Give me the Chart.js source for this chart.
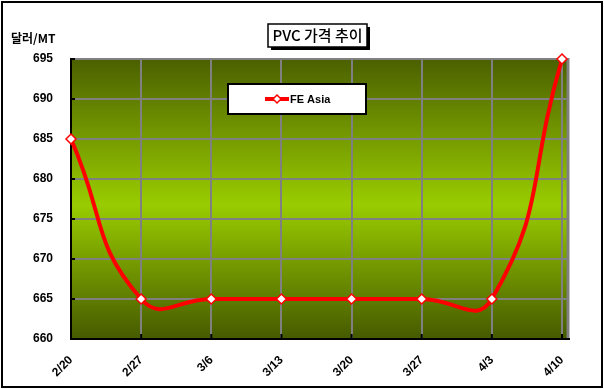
<!DOCTYPE html>
<html>
<head>
<meta charset="utf-8">
<script src="https://cdn.jsdelivr.net/npm/chart.js@4/dist/chart.umd.min.js"></script>
<style>
html,body{margin:0;padding:0;background:#fff;}
canvas{display:block;}
</style>
</head>
<body>
<canvas id="c" width="604" height="389"></canvas>
<script>
const categories = ['2/20','2/27','3/6','3/13','3/20','3/27','4/3','4/10'];
const feAsia = [685, 665, 665, 665, 665, 665, 665, 695];
const seriesName = 'FE Asia';
const chartTitle = 'PVC 가격 추이';
const yUnit = '달러/MT';
const yMin = 660, yMax = 695, yStep = 5;

const decor = {
  id: 'decor',
  beforeDraw(chart) {
    const ctx = chart.ctx, a = chart.chartArea;
    const right = a.right + 6;
    const g = ctx.createLinearGradient(0, a.top, 0, a.bottom);
    g.addColorStop(0, '#4b6000');
    g.addColorStop(0.52, '#99cc00');
    g.addColorStop(1, '#465a00');
    ctx.save();
    ctx.fillStyle = g;
    ctx.fillRect(a.left, a.top, right - a.left, a.bottom - a.top);
    ctx.restore();
  },
  beforeDatasetsDraw(chart) {
    const ctx = chart.ctx, a = chart.chartArea;
    const right = a.right + 6;
    ctx.save();
    ctx.strokeStyle = '#808080';
    ctx.lineWidth = 2;
    const ys = chart.scales.y;
    for (let v = yMin + yStep; v <= yMax; v += yStep) {
      const y = ys.getPixelForValue(v);
      ctx.beginPath(); ctx.moveTo(a.right, y); ctx.lineTo(right, y); ctx.stroke();
    }
    ctx.lineWidth = 3;
    ctx.beginPath(); ctx.moveTo(right, a.top - 1); ctx.lineTo(right, a.bottom); ctx.stroke();
    ctx.strokeStyle = '#000';
    ctx.lineWidth = 2;
    ctx.beginPath(); ctx.moveTo(a.left, a.bottom); ctx.lineTo(right + 2, a.bottom); ctx.stroke();
    for (let v = yMin; v <= yMax; v += yStep) {
      const y = ys.getPixelForValue(v);
      ctx.beginPath(); ctx.moveTo(a.left, y); ctx.lineTo(a.left + 4, y); ctx.stroke();
    }
    const xs = chart.scales.x;
    for (let i = 0; i < categories.length; i++) {
      const x = xs.getPixelForValue(i);
      ctx.beginPath(); ctx.moveTo(x, a.bottom); ctx.lineTo(x, a.bottom - 5); ctx.stroke();
    }
    ctx.restore();
  },
  afterDraw(chart) {
    const ctx = chart.ctx;
    ctx.save();
    ctx.strokeStyle = '#000';
    ctx.lineWidth = 2;
    ctx.strokeRect(2, 2, 600, 385);
    ctx.fillStyle = '#000';
    ctx.fillRect(271, 27, 99, 23);
    ctx.fillStyle = '#fff';
    ctx.fillRect(268, 24, 99, 23);
    ctx.lineWidth = 1.5;
    ctx.strokeRect(268, 24, 99, 23);
    ctx.fillStyle = '#000';
    ctx.font = '500 15px "Noto Sans CJK KR", sans-serif';
    ctx.textAlign = 'center';
    ctx.textBaseline = 'middle';
    ctx.fillText(chartTitle, 317.5, 35.5);
    ctx.font = 'bold 12px "Noto Sans CJK KR", sans-serif';
    ctx.textAlign = 'left';
    ctx.fillText(yUnit, 11, 38);
    ctx.fillStyle = '#fff';
    ctx.fillRect(228, 84, 138, 30);
    ctx.strokeStyle = '#000';
    ctx.lineWidth = 2;
    ctx.strokeRect(228, 84, 138, 30);
    ctx.strokeStyle = '#ff0000';
    ctx.lineWidth = 4;
    ctx.beginPath(); ctx.moveTo(265, 99); ctx.lineTo(289, 99); ctx.stroke();
    ctx.fillStyle = '#fff';
    ctx.lineWidth = 1.5;
    ctx.beginPath();
    ctx.moveTo(277, 95); ctx.lineTo(281, 99); ctx.lineTo(277, 103); ctx.lineTo(273, 99); ctx.closePath();
    ctx.fill(); ctx.stroke();
    ctx.fillStyle = '#000';
    ctx.font = 'bold 11px "Liberation Sans", Arial, sans-serif';
    ctx.textBaseline = 'middle';
    ctx.fillText(seriesName, 290, 99.5);
    ctx.restore();
  }
};

new Chart(document.getElementById('c'), {
  type: 'line',
  data: {
    labels: categories,
    datasets: [{
      label: seriesName,
      data: feAsia,
      borderColor: '#ff0000',
      borderWidth: 4,
      tension: 0.5,
      pointStyle: 'rectRot',
      pointRadius: 5,
      pointBackgroundColor: '#ffffff',
      pointBorderColor: '#ff0000',
      pointBorderWidth: 1.5,
      clip: false
    }]
  },
  options: {
    responsive: false,
    animation: false,
    devicePixelRatio: 1,
    layout: { padding: { left: 0, top: 59, right: 42, bottom: 0 } },
    plugins: { legend: { display: false }, title: { display: false }, tooltip: { enabled: false } },
    scales: {
      x: {
        offset: false,
        afterFit(s) { s.height = 50; },
        grid: { color: '#808080', lineWidth: 2, drawTicks: false },
        border: { color: '#000', width: 2 },
        ticks: {
          minRotation: 45, maxRotation: 45, padding: 14, autoSkip: false,
          color: '#000',
          font: { family: '"Liberation Sans", Arial, sans-serif', size: 12, weight: 'bold' }
        }
      },
      y: {
        min: yMin, max: yMax,
        afterFit(s) { s.width = 71; },
        grid: { color: '#808080', lineWidth: 2, drawTicks: false },
        border: { color: '#000', width: 2 },
        ticks: {
          stepSize: yStep, padding: 18,
          color: '#000',
          font: { family: '"Liberation Sans", Arial, sans-serif', size: 12, weight: 'bold' }
        }
      }
    }
  },
  plugins: [decor]
});
</script>
</body>
</html>
